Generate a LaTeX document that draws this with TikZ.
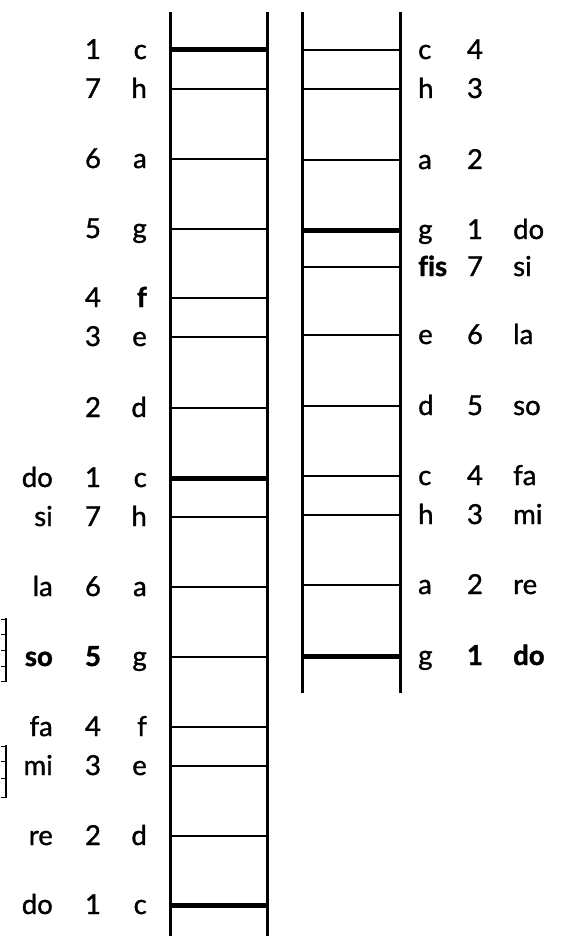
\documentclass[tikz,border=0pt]{standalone}
\usepackage{fontspec}
\setmainfont{Lato}[Ligatures=NoCommon,
  UprightFeatures={FakeBold=1.2},
  BoldFeatures={FakeBold=1.5}]

\begin{document}
\begin{tikzpicture}[
  x=1pt,y=-1pt,
  rail/.style={line width=3pt},
  rung/.style={line width=1.3pt},
  keyrung/.style={line width=5pt},
  tick/.style={line width=1pt},
  lbl/.style={font=\fontsize{27.5}{30}\selectfont,inner sep=0pt}
]
  \useasboundingbox (0,0) rectangle (563,936);

  % left ladder (c major over two octaves)
  \draw[rail] (170,12) -- (170,936);
  \draw[rail] (267,12) -- (267,936);
  \foreach \y/\note/\deg/\sol/\kind [count=\i] in {
      50/c/1//keyrung, 89/h/7//rung, 159/a/6//rung, 229/g/5//rung,
      298/\textbf{f}/4//rung, 337/e/3//rung, 408/d/2//rung,
      478/c/1/do/keyrung, 517/h/7/si/rung, 587/a/6/la/rung,
      657/g/\textbf{5}/\textbf{so}/rung, 727/f/4/fa/rung, 766/e/3/mi/rung,
      836/d/2/re/rung, 905/c/1/do/keyrung} {
    \draw[\kind] (171,\y) -- (266,\y);
    \node[lbl,anchor=base east] (lnote\i) at (147,\y+9) {\note};
    \node[lbl,anchor=base] (ldeg\i) at (93,\y+9) {\deg};
    \node[lbl,anchor=base east] (lsol\i) at (53,\y+9) {\sol};
  }

  % right ladder (g major)
  \draw[rail] (302,12) -- (302,693);
  \draw[rail] (400,12) -- (400,693);
  \foreach \y/\note/\deg/\sol/\kind [count=\i] in {
      50/c/4//rung, 89/h/3//rung, 160/a/2//rung, 230/g/1/do/keyrung,
      267/\textbf{fis}/7/si/rung, 335/e/6/la/rung, 406/d/5/so/rung,
      476/c/4/fa/rung, 515/h/3/mi/rung, 585/a/2/re/rung,
      656/g/\textbf{1}/\textbf{do}/keyrung} {
    \draw[\kind] (303,\y) -- (399,\y);
    \node[lbl,anchor=base west] (rnote\i) at (418,\y+9) {\note};
    \node[lbl,anchor=base] (rdeg\i) at (475,\y+9) {\deg};
    \node[lbl,anchor=base west] (rsol\i) at (513,\y+9) {\sol};
  }

  % cut-off marks at the left edge
  \draw[line width=2pt] (6,618) -- (6,682);
  \foreach \y in {619,634,650,666,681}
    \draw[tick] (1,\y) -- (6,\y);
  \draw[line width=2pt] (6,745) -- (6,798);
  \foreach \y in {746,761,778,797}
    \draw[tick] (1,\y) -- (6,\y);
\end{tikzpicture}
\end{document}
